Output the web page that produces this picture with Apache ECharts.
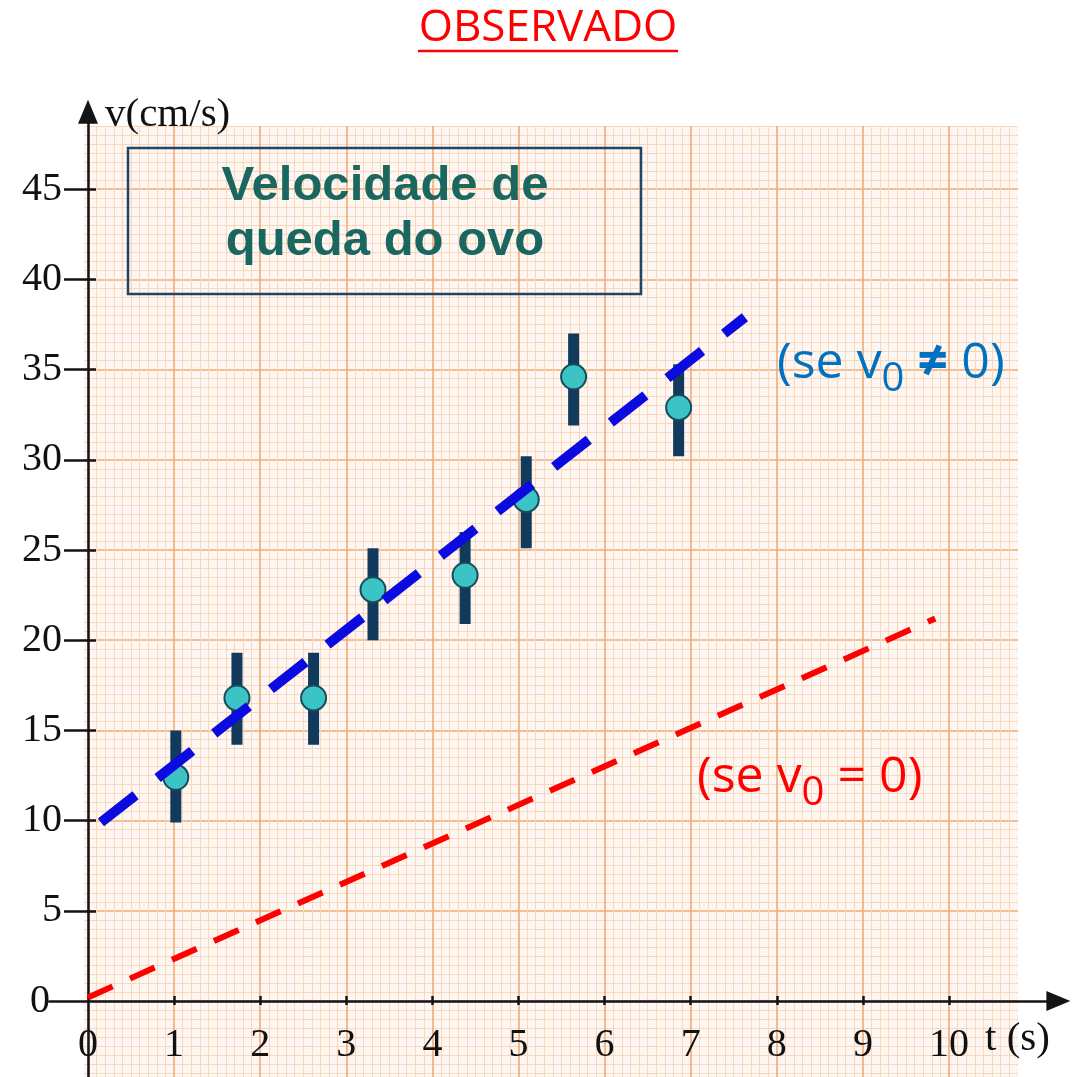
<!DOCTYPE html>
<html>
<head>
<meta charset="utf-8">
<script src="https://cdn.jsdelivr.net/npm/echarts@6/dist/echarts.min.js"></script>
<style>
  html, body { margin: 0; padding: 0; background: #ffffff; }
  #chart { width: 1084px; height: 1077px; }
</style>
</head>
<body>
<div id="chart"></div>
<script>
// ---- data ----
const tVals  = [1.02, 1.73, 2.62, 3.31, 4.38, 5.09, 5.64, 6.86];
const vVals  = [12.4, 16.8, 16.8, 22.8, 23.6, 27.8, 34.6, 32.9];
const vLow   = [9.9, 14.2, 14.2, 20.0, 20.9, 25.1, 31.9, 30.2];
const vHigh  = [15.0, 19.3, 19.3, 25.1, 26.0, 30.2, 37.0, 35.3];
// fitted line (se v0 != 0)
const fitT = [0.15, 7.63];
const fitV = [9.9, 37.9];
// line through origin (se v0 = 0)
const zeroT = [0, 9.84];
const zeroV = [0.2, 21.2];
// tick labels
const xTickLabels = [0, 1, 2, 3, 4, 5, 6, 7, 8, 9, 10];
const yTickLabels = [0, 5, 10, 15, 20, 25, 30, 35, 40, 45];
const xTickMarks = [1, 2, 3, 4, 5, 6, 7, 8, 9, 10];
const yTickMarks = [5, 10, 15, 20, 25, 30, 35, 40, 45];

const chart = echarts.init(document.getElementById('chart'), null, { renderer: 'canvas' });

const AX = '#141414';
const serif = 'Liberation Serif';
const sans = 'Open Sans';
const PX_T = 86.1, PX_V = 18.04, X0 = 88, Y0 = 1001;
const T_MAX = 11.27, V_MAX = 49.3, T_LEFT = -0.45, V_BOTTOM = -5;

const option = {
  animation: false,
  backgroundColor: '#ffffff',
  grid: [
    // data area: origin at the lower-left corner, carries tick labels
    { left: X0, top: Y0 - V_MAX * PX_V, width: T_MAX * PX_T, height: V_MAX * PX_V,
      containLabel: false, outerBoundsMode: 'none' },
    // graph paper
    { left: X0 - PX_T, top: Y0 - 50 * PX_V, width: 12 * PX_T, height: 55 * PX_V, show: true,
      outerBoundsMode: 'none', backgroundColor: '#fdf6f2', borderWidth: 0, z: 0 },
    // axis lines (extending past the origin) with crossing ticks
    { left: X0 + T_LEFT * PX_T, top: Y0 - V_MAX * PX_V, width: (T_MAX - T_LEFT) * PX_T,
      height: (V_MAX - V_BOTTOM) * PX_V, containLabel: false, outerBoundsMode: 'none' }
  ],
  xAxis: [
    { gridIndex: 0, type: 'value', min: 0, max: T_MAX, position: 'bottom', z: 3,
      axisLine: { show: false, onZero: false }, axisTick: { show: false },
      axisLabel: { show: true, customValues: xTickLabels, margin: 24, color: '#111',
                   fontFamily: serif, fontSize: 40 },
      splitLine: { show: false } },
    { gridIndex: 1, type: 'value', min: -1, max: 11, interval: 1, z: 0,
      axisLine: { show: false }, axisTick: { show: false }, axisLabel: { show: false },
      splitLine: { show: true, lineStyle: { color: '#f3ab73', width: 1.6 } },
      minorTick: { show: false, splitNumber: 10 },
      minorSplitLine: { show: true, lineStyle: { color: '#f8d8bb', width: 1 } } },
    { gridIndex: 2, type: 'value', min: T_LEFT, max: T_MAX, position: 'bottom', z: 3,
      axisLine: { show: true, onZero: true, lineStyle: { color: AX, width: 2.5 },
                  symbol: ['none', 'triangle'], symbolSize: [20, 24] },
      axisTick: { show: true, length: 4, customValues: xTickMarks, lineStyle: { color: AX, width: 2.5 } },
      axisLabel: { show: false }, splitLine: { show: false } },
    { gridIndex: 2, type: 'value', min: T_LEFT, max: T_MAX, position: 'top', z: 3,
      axisLine: { show: true, onZero: true, lineStyle: { color: 'rgba(0,0,0,0)', width: 0 } },
      axisTick: { show: true, length: 5, customValues: xTickMarks, lineStyle: { color: AX, width: 2.5 } },
      axisLabel: { show: false }, splitLine: { show: false } }
  ],
  yAxis: [
    { gridIndex: 0, type: 'value', min: 0, max: V_MAX, position: 'left', z: 3,
      axisLine: { show: false, onZero: false }, axisTick: { show: false },
      axisLabel: { show: true, customValues: yTickLabels, margin: 26, color: '#111',
                   fontFamily: serif, fontSize: 40,
                   formatter: function (v) { return v === 0 ? '{z|0}' : String(v); },
                   rich: { z: { fontFamily: serif, fontSize: 40, color: '#111', padding: [0, 12, 0, 0] } } },
      splitLine: { show: false } },
    { gridIndex: 1, type: 'value', min: -5, max: 50, interval: 5, z: 0,
      axisLine: { show: false }, axisTick: { show: false }, axisLabel: { show: false },
      splitLine: { show: true, lineStyle: { color: '#f3ab73', width: 1.6 } },
      minorTick: { show: false, splitNumber: 10 },
      minorSplitLine: { show: true, lineStyle: { color: '#f8d8bb', width: 1 } } },
    { gridIndex: 2, type: 'value', min: V_BOTTOM, max: V_MAX, position: 'left', z: 3,
      axisLine: { show: true, onZero: true, lineStyle: { color: AX, width: 2.5 },
                  symbol: ['none', 'triangle'], symbolSize: [20, 24] },
      axisTick: { show: true, length: 24, customValues: yTickMarks, lineStyle: { color: AX, width: 2.5 } },
      axisLabel: { show: false }, splitLine: { show: false } },
    { gridIndex: 2, type: 'value', min: V_BOTTOM, max: V_MAX, position: 'right', z: 3,
      axisLine: { show: true, onZero: true, lineStyle: { color: 'rgba(0,0,0,0)', width: 0 } },
      axisTick: { show: true, length: 8, customValues: yTickMarks, lineStyle: { color: AX, width: 2.5 } },
      axisLabel: { show: false }, splitLine: { show: false } }
  ],
  series: [
    {
      type: 'custom', name: 'erro', xAxisIndex: 0, yAxisIndex: 0, z: 4, silent: true,
      data: tVals.map((t, i) => [t, vLow[i], vHigh[i]]),
      encode: { x: 0, y: [1, 2] },
      renderItem: function (params, api) {
        const t = api.value(0);
        const pHi = api.coord([t, api.value(2)]);
        const pLo = api.coord([t, api.value(1)]);
        const w = 11;
        return { type: 'rect',
                 shape: { x: pHi[0] - w / 2, y: pHi[1], width: w, height: pLo[1] - pHi[1] },
                 style: { fill: '#123a5c' } };
      }
    },
    {
      type: 'scatter', name: 'v', xAxisIndex: 0, yAxisIndex: 0, z: 5, silent: true,
      data: tVals.map((t, i) => [t, vVals[i]]),
      symbol: 'circle', symbolSize: 25,
      itemStyle: { color: '#3cc3c6', borderColor: '#174c5c', borderWidth: 2, opacity: 1 }
    },
    {
      type: 'line', name: 'se v0 = 0', xAxisIndex: 0, yAxisIndex: 0, z: 6, silent: true,
      data: zeroT.map((t, i) => [t, zeroV[i]]),
      symbol: 'none', clip: false,
      lineStyle: { color: '#ff0000', width: 6, type: [27, 19], cap: 'butt' }
    },
    {
      type: 'line', name: 'se v0 != 0', xAxisIndex: 0, yAxisIndex: 0, z: 7, silent: true,
      data: fitT.map((t, i) => [t, fitV[i]]),
      symbol: 'none',
      lineStyle: { color: '#0b0be0', width: 10, type: [44, 28], cap: 'butt' }
    }
  ],
  graphic: [
    // white margins around the graph paper
    { type: 'rect', z: 1, silent: true, shape: { x: 0, y: 0, width: 84, height: 1077 }, style: { fill: '#ffffff' } },
    { type: 'rect', z: 1, silent: true, shape: { x: 0, y: 0, width: 1084, height: 126 }, style: { fill: '#ffffff' } },
    { type: 'rect', z: 1, silent: true, shape: { x: 1018, y: 0, width: 66, height: 1077 }, style: { fill: '#ffffff' } },
    // title
    { type: 'text', z: 10, silent: true, x: 548, y: 28,
      style: { text: 'OBSERVADO', fill: '#ff0000', fontFamily: sans, fontSize: 44,
               textAlign: 'center', align: 'center', textVerticalAlign: 'middle', verticalAlign: 'middle' } },
    { type: 'line', z: 10, silent: true, shape: { x1: 418, y1: 51, x2: 678, y2: 51 },
      style: { stroke: '#ff0000', lineWidth: 2.5 } },
    // box
    { type: 'rect', z: 10, silent: true, shape: { x: 128, y: 148, width: 513, height: 146 },
      style: { fill: 'none', stroke: '#1d4667', lineWidth: 2.5 } },
    { type: 'text', z: 10, silent: true, x: 385, y: 186,
      style: { text: 'Velocidade de', fill: '#1a675f', fontFamily: 'Liberation Sans', fontWeight: 'bold', fontSize: 49,
               textAlign: 'center', align: 'center', textVerticalAlign: 'middle', verticalAlign: 'middle' } },
    { type: 'text', z: 10, silent: true, x: 385, y: 241,
      style: { text: 'queda do ovo', fill: '#1a675f', fontFamily: 'Liberation Sans', fontWeight: 'bold', fontSize: 49,
               textAlign: 'center', align: 'center', textVerticalAlign: 'middle', verticalAlign: 'middle' } },
    // line labels
    { type: 'text', z: 10, silent: true, x: 777, y: 364,
      style: { text: '(se v{sub|0} {ne|\u2260} 0)', fill: '#0070c0', fontFamily: sans, fontSize: 50,
               textAlign: 'left', align: 'left', textVerticalAlign: 'middle', verticalAlign: 'middle',
               rich: { sub: { fill: '#0070c0', color: '#0070c0', fontFamily: sans, fontSize: 40, padding: [31, 0, 0, 0] },
                       ne: { fill: '#0070c0', color: '#0070c0', fontFamily: sans, fontSize: 54, fontWeight: 'bold' } } } },
    { type: 'text', z: 10, silent: true, x: 697, y: 778,
      style: { text: '(se v{sub|0} = 0)', fill: '#ff0000', fontFamily: sans, fontSize: 50,
               textAlign: 'left', align: 'left', textVerticalAlign: 'middle', verticalAlign: 'middle',
               rich: { sub: { fill: '#ff0000', color: '#ff0000', fontFamily: sans, fontSize: 40, padding: [31, 0, 0, 0] } } } },
    // axis names
    { type: 'text', z: 10, silent: true, x: 105, y: 115,
      style: { text: 'v(cm/s)', fill: '#111', fontFamily: serif, fontSize: 41,
               textAlign: 'left', align: 'left', textVerticalAlign: 'middle', verticalAlign: 'middle' } },
    { type: 'text', z: 10, silent: true, x: 985, y: 1039,
      style: { text: 't (s)', fill: '#111', fontFamily: serif, fontSize: 41,
               textAlign: 'left', align: 'left', textVerticalAlign: 'middle', verticalAlign: 'middle' } }
  ]
};

chart.setOption(option);
</script>
</body>
</html>
